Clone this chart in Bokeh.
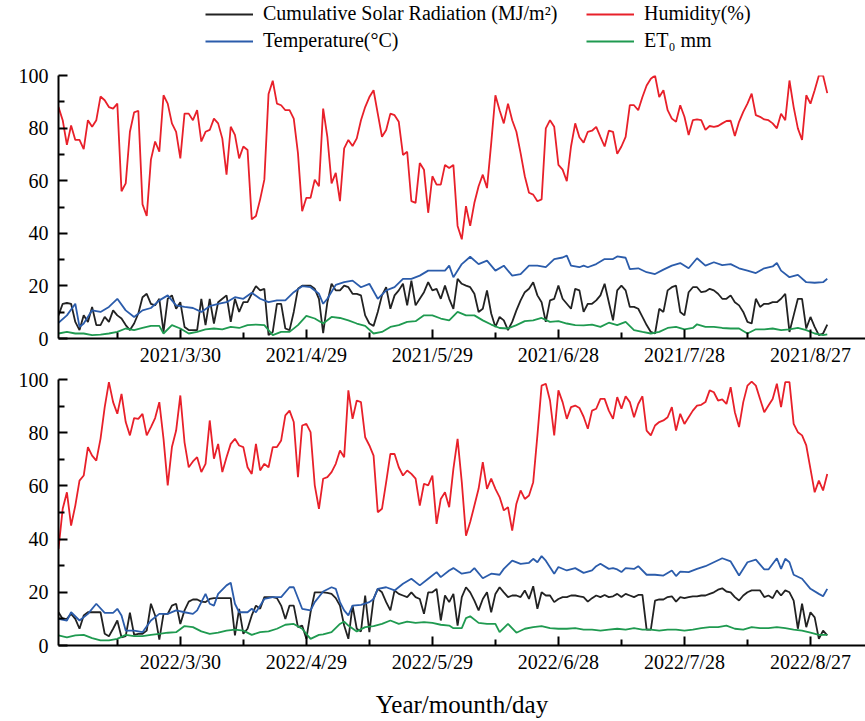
from bokeh.plotting import figure
from bokeh.models import Legend, LegendItem, FixedTicker, Range1d
from bokeh.layouts import column
from bokeh.embed import file_html
from bokeh.resources import INLINE

# ---------------- data (day index 0 = 3/1 of each year) ----------------
tick_days = [29, 59, 89, 119, 149, 179]
minor_days = [14, 44, 74, 104, 134, 164]
labels_2021 = ["2021/3/30", "2021/4/29", "2021/5/29", "2021/6/28", "2021/7/28", "2021/8/27"]
labels_2022 = ["2022/3/30", "2022/4/29", "2022/5/29", "2022/6/28", "2022/7/28", "2022/8/27"]

# 2021 daily humidity (%)
hum_2021 = [88, 83, 73.6, 81, 75.5, 75.5, 72, 83, 80.5, 83,
            92, 90.6, 88, 87.4, 89.3, 56, 59, 78.6, 86, 86.6,
            51, 46.6, 68, 74.9, 71, 92.5, 89.3, 81.8, 78.6, 68.5,
            85.5, 85.5, 83, 86.8, 74.9, 78.6, 79.3, 83.6, 81.8, 76,
            62.3, 80.5, 77.4, 68.5, 73, 71.7, 45.3, 46.6, 52.9, 60.4,
            93, 98, 89.3, 88.7, 86.8, 86.8, 83.6, 70.5, 48.4, 53.5,
            53.5, 60.4, 57.9, 87.4, 76.7, 59, 63, 52.2, 72.3, 75.5,
            73.2, 76.1, 83, 88, 91.8, 94.4, 85.5, 76.7, 79.3, 85.5,
            84.9, 82.4, 69.8, 71, 52.2, 51.6, 66.7, 64.2, 47.8, 61.7,
            58.5, 58.5, 66, 64.8, 66, 42.8, 37.7, 50.3, 42.8, 51.6,
            57.9, 62.3, 57.2, 74.2, 92.5, 86.8, 81.8, 89.3, 83, 78.6,
            70.5, 61.7, 55.4, 54.7, 52.2, 52.9, 79.9, 83, 80.5, 66,
            64.2, 59.8, 73, 81.8, 76.5, 74.5, 78.6, 79, 80.5, 76.7,
            73, 79, 78.6, 70.2, 73, 76.7, 88.7, 88.7, 86.8, 91.8,
            96.2, 98.8, 100, 91.8, 94.4, 86.8, 83.6, 82.4, 88.7, 84.3,
            77.4, 83, 83.3, 83, 79.3, 80.8, 80.5, 80.8, 81.8, 82.7,
            82.8, 77, 82.4, 86.2, 89.3, 93.1, 84.9, 84.3, 83.3, 83,
            81.8, 79.9, 85.5, 83, 98.1, 88, 79.9, 75.5, 92.5, 89.3,
            94.4, 100, 100, 93.3]

# 2021 daily cumulative solar radiation (MJ/m2)
rad_2021 = [8.8, 13.2, 13.5, 13.2, 6.3, 3.2, 8.8, 6.3, 12, 5.1,
            5.1, 8.2, 6.3, 10.7, 8.8, 7.6, 5.1, 3.2, 5.7, 9.5,
            15.7, 17, 13.2, 12.6, 15.1, 2.5, 15.1, 16.4, 11.3, 13.8,
            4.4, 3.2, 3.2, 3.2, 15.1, 5.1, 15.1, 5.7, 13.8, 15.1,
            16.4, 6.3, 15.1, 10.1, 13.8, 13.8, 17, 19.9, 18.3, 18.9,
            1.3, 2.5, 13.2, 13.2, 3.8, 3.2, 10.1, 18.9, 20.1, 20.1,
            20.1, 18.9, 15.1, 2, 13.8, 20.8, 18.3, 18.3, 20.1, 19.5,
            17, 17, 16.4, 8.8, 5.7, 4.8, 10.1, 16.4, 19.5, 11.3,
            16.4, 18.3, 20.8, 12.6, 22, 12.6, 15.1, 17.6, 21.4, 18.3,
            18.9, 15.1, 20.1, 15.1, 11.3, 22.7, 20.8, 20.1, 19.5, 17,
            10.1, 11.3, 18.3, 9.5, 4.4, 8.2, 6.9, 3.2, 6.3, 10.7,
            14.5, 17.6, 18.9, 21.4, 16.4, 13.8, 6.3, 14.5, 15.1, 20.1,
            15.1, 13.2, 11.3, 18.9, 18.3, 10.1, 13.2, 13.2, 14.5, 16.4,
            20.8, 13.8, 6.9, 18.3, 20.1, 18.3, 12, 12, 11.3, 8.2,
            5.1, 2.5, 1.9, 11.3, 10.1, 18.3, 19.5, 20.1, 10.1, 8.8,
            17.6, 19.5, 19.5, 17.6, 17.9, 18.9, 18.3, 17, 15.1, 15.1,
            16.4, 13.8, 12.6, 10.1, 6.3, 5.7, 15.1, 12, 13.2, 13.2,
            13.8, 13.8, 15.1, 17, 2.5, 8.8, 15.1, 15.1, 3.8, 8.2,
            4.4, 1.3, 1.9, 5.3]

# 2021 temperature (C)
temp_2021_days = [0, 2, 4, 5, 6, 8, 10, 12, 14, 16, 18, 20, 22, 24, 26, 28, 30, 32, 34, 36,
                  38, 40, 42, 44, 46, 48, 50, 52, 54, 56, 58, 60, 62, 63, 64, 66, 68, 70, 72, 74,
                  76, 78, 80, 82, 84, 86, 88, 90, 92, 93, 94, 96, 98, 100, 102, 104, 106, 108, 110, 112,
                  114, 116, 118, 120, 121, 122, 124, 125, 126, 128, 130, 132, 133, 135, 136, 138, 140, 142, 144, 146,
                  148, 150, 152, 154, 156, 158, 160, 162, 164, 166, 168, 170, 171, 172, 174, 176, 178, 180, 182, 183]
temp_2021 = [6.0, 8.8, 13.2, 4.4, 5.7, 10.7, 10.1, 12, 15.1, 10.7, 8.2, 10.7, 11.6, 14.5, 16.4, 12.6, 12, 11.6, 10.1, 12.3,
             13.2, 13.8, 15.7, 15.1, 17.4, 15.1, 13.8, 14.5, 14.5, 17.6, 19.9, 19.5, 17, 13.2, 15.1, 20.4, 21.4, 22, 19.5, 20.8,
             15.1, 18.3, 19.5, 22.7, 22.7, 23.9, 25.8, 25.8, 25.8, 27.7, 23.3, 28.3, 31.1, 28.3, 29.6, 25.8, 27.7, 23.9, 24.5, 27.7,
             27.7, 27.1, 30.2, 30.8, 31.5, 27.7, 27.1, 27.7, 27.1, 28.3, 30.2, 30.2, 31.2, 30.7, 26.4, 26.7, 25.2, 24.5, 26.2, 27.7,
             28.7, 26.7, 30.5, 27.7, 29, 27.9, 28.3, 26.7, 25.8, 24.9, 26.7, 27.4, 28.7, 25.8, 23.3, 24.2, 21.4, 21.2, 21.4, 22.7]

# 2021 ET0 (mm)
et0_2021_days = [0, 2, 4, 6, 8, 10, 12, 14, 16, 18, 20, 22, 24, 25, 27, 29, 31, 33, 35, 37,
                 39, 41, 43, 45, 47, 49, 51, 53, 55, 57, 59, 61, 63, 65, 67, 69, 71, 73, 75, 77,
                 79, 81, 83, 85, 87, 89, 91, 93, 95, 97, 99, 101, 103, 105, 107, 109, 111, 113, 115, 117,
                 119, 121, 123, 125, 127, 129, 131, 133, 135, 137, 139, 141, 143, 145, 147, 149, 151, 152, 154, 156,
                 158, 160, 162, 164, 166, 168, 170, 172, 174, 176, 178, 180, 182, 183]
et0_2021 = [1.9, 2.5, 1.9, 1.9, 1.3, 1.5, 1.9, 2.5, 3.8, 3.2, 4, 4.8, 4.8, 1.9, 5.1, 3.8, 1.9, 2.5, 3.5, 3.8,
            3.5, 4.4, 4, 5.1, 5.3, 5.1, 1.3, 2.5, 2.5, 5.1, 8.6, 7.6, 5.7, 8.2, 7.8, 6.9, 5.7, 4.8, 1.9, 2.5,
            4.4, 5.1, 6.3, 6.6, 8.8, 8.8, 7.6, 6.9, 10.1, 8.8, 8.8, 6.9, 5.3, 4, 3.8, 5.1, 6.6, 6.9, 7.8, 6.3,
            6.6, 5.7, 5.1, 5, 5.3, 4.4, 6, 5.1, 6.3, 3.2, 2.5, 1.9, 2.5, 4, 4.4, 3.5, 4, 5.4, 4.4, 4.4,
            4, 3.8, 3.8, 1.9, 3.5, 3.5, 3.8, 3.2, 3.5, 4, 3.2, 1.9, 1.3, 1.6]

# 2022 daily humidity (%)
hum_2022 = [36.3, 51.4, 57.6, 45.1, 52.6, 62, 63.9, 74.6, 71.4, 69.5,
            77.7, 89.6, 99, 91.5, 87.1, 94.6, 84, 79, 85.5, 85.2,
            87.1, 79, 82.1, 85.5, 91.5, 77.7, 60.2, 74.6, 80.8, 94,
            76.4, 67, 69.2, 70.8, 65.2, 68.3, 84.6, 70.2, 75.8, 65.2,
            70.8, 75.8, 77.7, 75.2, 74.6, 67, 64.5, 75.8, 65.8, 68.3,
            67, 74.6, 74.6, 77.1, 86.5, 88.3, 84, 63.3, 82.7, 83.3,
            80.2, 60.2, 51.4, 62.7, 63.3, 65.2, 68.3, 73.3, 70.8, 95.9,
            85.2, 92.1, 91.5, 78.3, 75.2, 71.4, 50.1, 51.4, 61.4, 72,
            72, 67, 63.9, 65.8, 64.5, 62.7, 52.6, 60.8, 60.2, 63.9,
            45.7, 55.1, 57.6, 52, 66.4, 77.7, 61.4, 41.3, 46.4, 52.6,
            58.9, 68.9, 58.9, 62.7, 58.9, 55.8, 50.8, 52, 43.2, 53.3,
            58.3, 55.1, 56.4, 61.4, 79, 97.7, 98.4, 92.1, 79, 95.9,
            91.5, 85.2, 89.6, 90.2, 89.3, 86, 81.5, 88.3, 89, 92.7,
            92.7, 88.3, 85.2, 93.4, 89, 93.7, 91.5, 85.8, 90.8, 93.7,
            80.8, 79, 82.7, 84, 84.6, 85.8, 89.6, 80.8, 87.1, 83.3,
            85.8, 88.3, 90.2, 90.5, 91.5, 95.9, 95.2, 92.1, 92.5, 90.8,
            97.1, 87.7, 82.1, 91.5, 97.7, 99.2, 97.7, 92.7, 87.7, 90.2,
            92.7, 98.4, 89.6, 99, 99, 83.3, 80.2, 79, 75.2, 66.4,
            57.6, 62, 58.3, 64.5]

# 2022 daily cumulative solar radiation (MJ/m2)
rad_2022 = [12.5, 10, 10, 11.9, 10, 6.3, 11.3, 12.5, 12.5, 12.5,
            12.5, 4.4, 3.5, 6.3, 9.4, 3.1, 3.5, 12.3, 4, 4.4,
            4.4, 5.6, 15.7, 11.3, 2.2, 11.9, 11.9, 15, 15.7, 8.1,
            13.2, 16.5, 17.3, 17.3, 16.5, 16.3, 17.5, 17.8, 17.8, 17.8,
            17.8, 17.8, 3.8, 13.8, 4.4, 6.3, 11.3, 15, 13.8, 18.2,
            18.2, 18.2, 17.8, 15, 10, 15, 15, 6.9, 7.5, 2.5,
            12.5, 20, 20, 20, 19.8, 19.4, 17.8, 15, 7.5, 2.5,
            15, 6.3, 5.3, 18.8, 5, 17.5, 21.3, 20, 16.3, 13.2,
            20.7, 19.4, 18.8, 18.2, 20, 18.2, 17.5, 11.9, 20, 20,
            21.3, 9.4, 18.8, 16.3, 19.4, 7.5, 18.2, 21.9, 20, 16.9,
            13.2, 17.5, 20, 12.5, 19.4, 21.9, 20, 18.2, 18.8, 18.8,
            18.2, 20.7, 17.5, 22.3, 13.8, 20, 18.8, 18.8, 16.3, 17.5,
            18.2, 18.2, 18.8, 18.8, 18.5, 18.2, 16.5, 17.8, 18.8, 18.2,
            19, 18.2, 18.5, 19.4, 18.2, 19.4, 18.8, 18.2, 19, 19,
            6, 6, 16.9, 17.3, 17.3, 18.2, 18.5, 16.5, 18.2, 17.8,
            18.2, 18.5, 18.5, 18.8, 18.8, 19.4, 20, 21, 21.5, 20.3,
            20, 18.2, 16.9, 18.8, 20, 20.7, 20.7, 20.7, 18.2, 18.8,
            17.8, 20.7, 18.8, 20.7, 20, 16.9, 6.3, 15.7, 6.9, 12.5,
            10.6, 2.5, 5.6, 3.8]

# 2022 temperature (C)
temp_2022_days = [0, 2, 3, 5, 7, 9, 11, 13, 14, 15, 16, 18, 20, 22, 24, 26, 28, 30, 32, 33,
                  35, 36, 37, 38, 40, 41, 42, 43, 45, 46, 47, 49, 51, 53, 55, 56, 58, 60, 61, 63,
                  65, 66, 67, 68, 69, 70, 72, 74, 75, 76, 78, 80, 82, 84, 86, 88, 90, 91, 93, 94,
                  96, 98, 99, 101, 103, 105, 106, 108, 110, 112, 113, 114, 115, 116, 118, 119, 121, 123, 125, 127,
                  128, 129, 131, 132, 133, 134, 135, 137, 138, 140, 142, 144, 146, 147, 148, 150, 152, 154, 156, 158,
                  160, 162, 164, 166, 168, 169, 171, 172, 173, 174, 175, 177, 179, 181, 182, 183]
temp_2022 = [10, 9.4, 12.5, 9.4, 11.9, 15.7, 12.3, 12.3, 13.8, 11.3, 5.6, 5.6, 5, 9.4, 11.9, 11.9, 13.2, 12.5, 11.9, 13.2,
             19.4, 15.7, 15, 19.4, 22.6, 23.6, 15.7, 12.5, 12.5, 13.8, 12.5, 17.5, 18.2, 18.2, 21.9, 21.9, 13.8, 13.2, 16.3, 20.3,
             21.9, 21.3, 16.3, 13.2, 11.3, 15, 15.3, 16.3, 17.5, 21.3, 21.9, 20.7, 23.2, 25.1, 22.6, 25.1, 27.6, 25.7, 28.2, 29.1,
             27, 27.6, 29.1, 25.3, 27, 26.6, 28.8, 31.9, 30.7, 31.1, 32.6, 31.3, 33.6, 31.9, 27, 29.5, 28.2, 29.1, 27.3, 28.2,
             29.8, 30.7, 28.8, 29.1, 28.6, 27.6, 29.1, 28.8, 29.8, 26.6, 26.6, 26.3, 28.2, 26.1, 27.8, 27.6, 28.8, 29.8, 31.3, 32.8,
             31.6, 26.3, 31.3, 32.3, 28.6, 28.6, 32.8, 28.8, 32.6, 31.3, 26.6, 25.1, 21.3, 19.4, 18.5, 21.3]

# 2022 ET0 (mm)
et0_2022_days = [0, 2, 4, 6, 8, 10, 12, 14, 16, 18, 20, 22, 24, 26, 28, 30, 32, 34, 36, 38,
                 40, 42, 44, 46, 48, 50, 52, 54, 56, 58, 60, 62, 63, 65, 67, 68, 69, 71, 73, 75,
                 77, 79, 81, 83, 85, 87, 89, 91, 93, 94, 96, 97, 98, 100, 102, 104, 105, 107, 109, 111,
                 113, 115, 117, 119, 121, 123, 125, 127, 129, 131, 133, 135, 137, 139, 141, 143, 145, 147, 149, 151,
                 153, 155, 157, 159, 161, 163, 165, 167, 169, 171, 173, 175, 177, 179, 181, 183]
et0_2022 = [3.8, 3.1, 3.8, 4, 2.8, 1.9, 1.9, 2.5, 4, 3.5, 3.5, 4, 4.4, 4.8, 5, 7.3, 6.9, 5.3, 4.4, 4.8,
            5.6, 6, 5.6, 4, 5, 5.3, 6.3, 7.8, 8.1, 6.3, 2.5, 4, 4.2, 5, 8.1, 9, 7.5, 5.3, 6.9, 7.3,
            8.1, 9.4, 8.1, 9, 8.5, 8.8, 8.5, 7.8, 7.5, 6.5, 6.5, 10.3, 11, 8.5, 8.1, 8.1, 5, 8.1, 4.8, 6.3,
            6.9, 7.3, 6.5, 6.3, 6.3, 6.5, 6, 6, 5.6, 6, 6.3, 6, 6.5, 6, 6, 5.6, 6, 6, 5.6, 6,
            6.5, 6.9, 6.9, 7.5, 6.3, 6, 6.9, 6.5, 6.5, 6.9, 6.5, 6, 5.6, 4.8, 4, 4]

series_names = ["Cumulative Solar Radiation (MJ/m\u00b2)", "Humidity(%)", "Temperature(\u00b0C)", "ET\u2080 mm"]
series_colors = ["#222222", "#e8202a", "#2b5cab", "#1f9a50"]

FONT = "Liberation Serif"
W = 865
LEFT = 58
X_END = 192.1


def style_legend(lg):
    lg.padding = 0
    lg.margin = 0
    lg.spacing = 4
    lg.glyph_width = 48
    lg.glyph_height = 20
    lg.label_height = 20
    lg.label_standoff = 10
    lg.label_text_font = FONT
    lg.label_text_font_size = "20px"
    lg.label_text_color = "black"
    lg.border_line_color = None
    lg.background_fill_alpha = 0


# legend strip across the top: same series, drawn out of view, only to provide legend keys
pl = figure(width=W, height=64, output_backend="svg", toolbar_location=None,
            x_axis_location=None, y_axis_location=None,
            x_range=Range1d(0, X_END), y_range=Range1d(-300, -200),
            min_border_left=LEFT, min_border_right=0, min_border_top=0, min_border_bottom=0)
pl.outline_line_color = None
pl.grid.visible = False
k_rad = pl.line(list(range(len(rad_2021))), rad_2021, line_color=series_colors[0], line_width=1.8)
k_hum = pl.line(list(range(len(hum_2021))), hum_2021, line_color=series_colors[1], line_width=1.8)
k_tmp = pl.line(temp_2021_days, temp_2021, line_color=series_colors[2], line_width=1.8)
k_et0 = pl.line(et0_2021_days, et0_2021, line_color=series_colors[3], line_width=1.8)
lg1 = Legend(items=[LegendItem(label=series_names[0], renderers=[k_rad]),
                    LegendItem(label=series_names[2], renderers=[k_tmp])],
             location=(147, 12))
lg2 = Legend(items=[LegendItem(label=series_names[1], renderers=[k_hum]),
                    LegendItem(label=series_names[3], renderers=[k_et0])],
             location=(528, 12))
for lg in (lg1, lg2):
    style_legend(lg)
    pl.add_layout(lg, "center")


def make_panel(height, border_top, border_bottom, rad, hum, tdays, temp, edays, et0, tick_labels,
               xlabel=None):
    p = figure(width=W, height=height, output_backend="svg", toolbar_location=None,
               x_range=Range1d(0, X_END), y_range=Range1d(0, 100),
               min_border_left=LEFT, min_border_right=0,
               min_border_top=border_top, min_border_bottom=border_bottom)
    p.outline_line_color = None
    p.grid.visible = False

    days = list(range(len(hum)))
    p.line(days, rad, line_color=series_colors[0], line_width=1.8)
    p.line(days, hum, line_color=series_colors[1], line_width=1.8)
    p.line(tdays, temp, line_color=series_colors[2], line_width=1.8)
    p.line(edays, et0, line_color=series_colors[3], line_width=1.8)

    p.xaxis.ticker = FixedTicker(ticks=tick_days, minor_ticks=minor_days)
    p.xaxis.major_label_overrides = {d: lab for d, lab in zip(tick_days, tick_labels)}
    p.yaxis.ticker = FixedTicker(ticks=[0, 20, 40, 60, 80, 100], minor_ticks=[10, 30, 50, 70, 90])
    for ax in (p.xaxis[0], p.yaxis[0]):
        ax.axis_line_width = 2
        ax.axis_line_color = "black"
        ax.major_tick_line_width = 2
        ax.minor_tick_line_width = 2
        ax.major_tick_line_color = "black"
        ax.minor_tick_line_color = "black"
        ax.major_tick_in = 9
        ax.major_tick_out = 0
        ax.minor_tick_in = 6
        ax.minor_tick_out = 0
        ax.major_label_text_font = FONT
        ax.major_label_text_font_size = "20px"
        ax.major_label_text_color = "black"
    p.xaxis.major_label_standoff = 5
    p.yaxis.major_label_standoff = 10
    if xlabel:
        p.xaxis.axis_label = xlabel
        p.xaxis.axis_label_text_font = FONT
        p.xaxis.axis_label_text_font_size = "25px"
        p.xaxis.axis_label_text_font_style = "normal"
        p.xaxis.axis_label_text_color = "black"
        p.xaxis.axis_label_standoff = 15
    return p


p1 = make_panel(304, 11, 28, rad_2021, hum_2021, temp_2021_days, temp_2021, et0_2021_days, et0_2021,
                labels_2021)
p2 = make_panel(352, 11, 75, rad_2022, hum_2022, temp_2022_days, temp_2022, et0_2022_days, et0_2022,
                labels_2022, xlabel="Year/mounth/day")

layout = column(pl, p1, p2, spacing=0)
open("out.html", "w").write(file_html(layout, INLINE))
